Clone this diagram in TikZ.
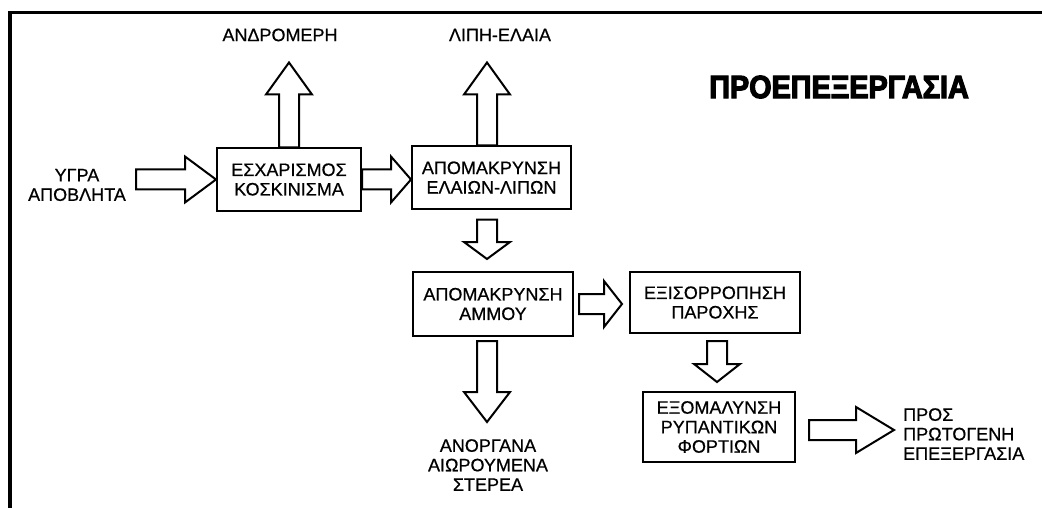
\documentclass[tikz,border=0pt]{standalone}
\usepackage{fontspec}
\setmainfont[UprightFeatures={FakeBold=0.6}]{Liberation Sans}
\newfontfamily\heavyfont[BoldFeatures={FakeBold=4}]{Liberation Sans}
\usepackage{tikz}
\usetikzlibrary{
    positioning,
    calc
}
\tikzset{
  block/.style   = {draw, line width=2pt, align=center, inner sep=1pt,
                    font=\fontsize{18}{19.5}\selectfont},
  lbl/.style     = {align=center, inner sep=0pt,
                    font=\fontsize{18}{19.5}\selectfont},
  headlen/.code  = {\def\fhl{#1}},
  headlen        = 20pt,
  fat/.style     = {draw, line width=2pt, fill=white, line join=miter,
    to path={
      ($(\tikztostart)!10pt!90:(\tikztotarget)$)
      -- ($(\tikztotarget)!\fhl!(\tikztostart)!10pt!-90:(\tikztostart)$)
      -- ($(\tikztotarget)!\fhl!(\tikztostart)!23pt!-90:(\tikztostart)$)
      -- (\tikztotarget)
      -- ($(\tikztotarget)!\fhl!(\tikztostart)!23pt!90:(\tikztostart)$)
      -- ($(\tikztotarget)!\fhl!(\tikztostart)!10pt!90:(\tikztostart)$)
      -- ($(\tikztostart)!10pt!-90:(\tikztotarget)$)
      -- cycle}}
}

\begin{document}
\begin{tikzpicture}[
    x=1pt, y=-1pt,
    frame/.style={line width=3.5pt},
    ttl/.style={font=\fontsize{32}{34}\selectfont\heavyfont\bfseries,
                inner sep=0pt}
]
\useasboundingbox (0,0) rectangle (1042,508);

% frame
\draw[frame] (10,508) -- (10,12.5) -- (1042,12.5);

% title
\node[ttl] (title) at (839,87) {\scalebox{0.9}[1]{ΠΡΟΕΠΕΞΕΡΓΑΣΙΑ}};

% blocks
\node[block, minimum width=144pt, minimum height=62pt] (screen)
    at (289,179.5) {ΕΣΧΑΡΙΣΜΟΣ\\ΚΟΣΚΙΝΙΣΜΑ};
\node[block, minimum width=159pt, minimum height=62pt] (oil)
    at (491.5,177.5) {ΑΠΟΜΑΚΡΥΝΣΗ\\ΕΛΑΙΩΝ-ΛΙΠΩΝ};
\node[block, minimum width=160pt, minimum height=64pt] (grit)
    at (493,304) {ΑΠΟΜΑΚΡΥΝΣΗ\\ΑΜΜΟΥ};
\node[block, minimum width=170pt, minimum height=61pt] (flow)
    at (715,302.5) {ΕΞΙΣΟΡΡΟΠΗΣΗ\\ΠΑΡΟΧΗΣ};
\node[block, minimum width=152pt, minimum height=70pt] (load)
    at (719,427) {ΕΞΟΜΑΛΥΝΣΗ\\ΡΥΠΑΝΤΙΚΩΝ\\ΦΟΡΤΙΩΝ};

% inputs and outputs
\node[lbl] (wet) at (77,185) {ΥΓΡΑ\\ΑΠΟΒΛΗΤΑ};
\node[lbl] (solids) at (280,35) {ΑΝΔΡΟΜΕΡΗ};
\node[lbl] (fats) at (500,35) {ΛΙΠΗ-ΕΛΑΙΑ};
\node[lbl] (inorg) at (488,465) {ΑΝΟΡΓΑΝΑ\\ΑΙΩΡΟΥΜΕΝΑ\\ΣΤΕΡΕΑ};
\node[lbl, align=left, anchor=west] (prim) at (903,434)
    {ΠΡΟΣ\\ΠΡΩΤΟΓΕΝΗ\\ΕΠΕΞΕΡΓΑΣΙΑ};

% arrow ends
\coordinate (wetend) at ([xshift=-80pt]screen.west);
\coordinate (scrout) at ([yshift=85pt]screen.north);
\coordinate (oilbase) at ([xshift=-4.5pt]oil.north);
\coordinate (oilout) at ([yshift=83pt]oilbase);
\coordinate (d1s) at ([yshift=-10pt]oil.south -| oilbase);
\coordinate (d1e) at ([yshift=12pt]grit.north -| oilbase);
\coordinate (r2s) at ([xshift=5pt]grit.east);
\coordinate (r2e) at ([xshift=-7pt]grit.east -| flow.west);
\coordinate (d2s) at ([yshift=-4pt]grit.south -| oilbase);
\coordinate (d2e) at ([yshift=-81pt]d2s);
\coordinate (d3s) at ([shift={(2pt,-7pt)}]flow.south);
\coordinate (d3e) at ([yshift=9pt]load.north -| d3s);
\coordinate (r3s) at ([shift={(13pt,-3pt)}]load.east);
\coordinate (r3e) at ([xshift=85pt]r3s);

% block arrows
\draw[fat, headlen=31pt] (wetend) to (screen.west);
\draw[fat, headlen=32pt] (screen.north) to (scrout);
\draw[fat, headlen=32pt] (oilbase) to (oilout);
\draw[fat, headlen=20pt] (screen.east) to (screen.east -| oil.west);
\draw[fat, headlen=17pt] (d1s) to (d1e);
\draw[fat, headlen=18pt] (r2s) to (r2e);
\draw[fat, headlen=30pt] (d2s) to (d2e);
\draw[fat, headlen=18pt] (d3s) to (d3e);
\draw[fat, headlen=38pt] (r3s) to (r3e);

\end{tikzpicture}
\end{document}
